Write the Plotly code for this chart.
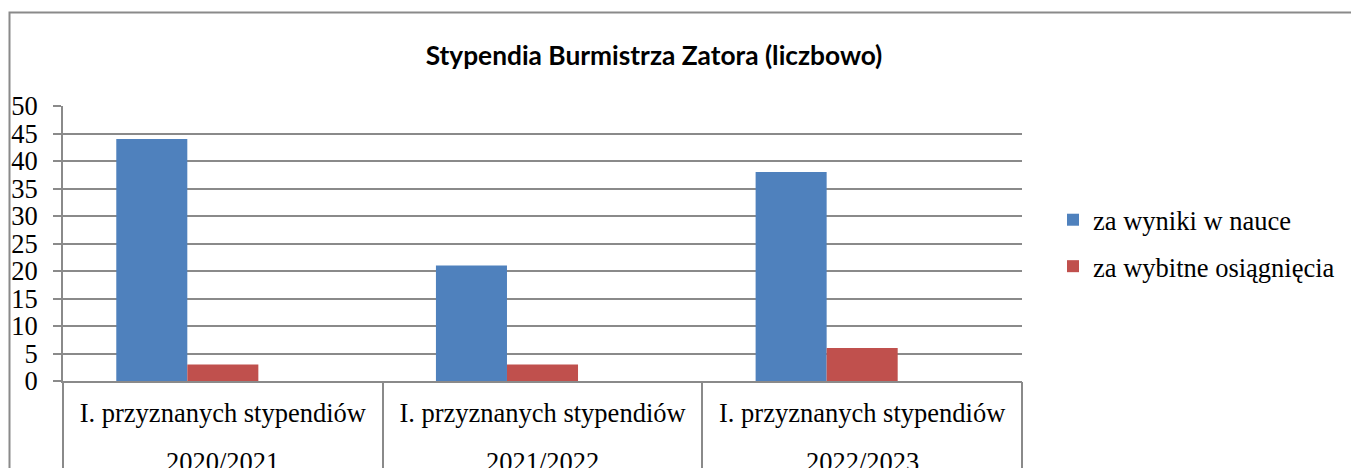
import plotly.graph_objects as go

# Scholarship counts per school year
years = ["2020/2021", "2021/2022", "2022/2023"]
row_label = "I. przyznanych stypendiów"
za_wyniki = [44, 21, 38]          # za wyniki w nauce
za_osiagniecia = [3, 3, 6]        # za wybitne osiągnięcia
series_names = ["za wyniki w nauce", "za wybitne osiągnięcia"]
y_ticks = [0, 5, 10, 15, 20, 25, 30, 35, 40, 45, 50]

BLUE = "#4F81BD"
RED = "#C0504D"
GRID = "#8a8a8a"
SERIF = "Liberation Serif, Times New Roman, serif"
FS = 26.5

W, H = 1351, 468
L, R, T, B = 63, W - 1022, 106, H - 381
PW, PH = W - L - R, H - T - B

fig = go.Figure()
fig.add_trace(go.Bar(x=years, y=za_wyniki, name=series_names[0],
                     marker=dict(color=BLUE, line=dict(width=0)), legendgroup="a"))
fig.add_trace(go.Bar(x=years, y=za_osiagniecia, name=series_names[1],
                     marker=dict(color=RED, line=dict(width=0)), legendgroup="b"))
# third (empty) series of the workbook keeps its slot in each group
fig.add_trace(go.Bar(x=years, y=[None] * len(years), name="", showlegend=False,
                     marker=dict(color="#9BBB59"), hoverinfo="skip"))
# carrier for the category separator axis
fig.add_trace(go.Scatter(x=years, y=[None] * len(years), xaxis="x2",
                         showlegend=False, hoverinfo="skip", mode="markers"))

# year line under each category label
for yr in years:
    fig.add_annotation(x=yr, xref="x", y=0, yref="y", yshift=-81,
                       text=yr, showarrow=False, yanchor="middle",
                       font=dict(family=SERIF, size=FS, color="black"))

# outer chart border
def px_x(p):
    return (p - L) / PW

def px_y(p):
    return (H - B - p) / PH

fig.add_shape(type="rect", xref="paper", yref="paper",
              x0=px_x(9.5), x1=px_x(1380), y0=px_y(490), y1=px_y(12.5),
              line=dict(color=GRID, width=2), layer="below")

fig.update_layout(
    width=W, height=H,
    margin=dict(l=L, r=R, t=T, b=B, pad=0, autoexpand=False),
    paper_bgcolor="white", plot_bgcolor="white",
    barmode="group", bargap=1.5 / 4.5, bargroupgap=0,
    title=dict(text="<b>Stypendia Burmistrza Zatora (liczbowo)</b>",
               xref="container", yref="container",
               x=654 / W, xanchor="center", y=1 - 56 / H, yanchor="middle",
               font=dict(family="Lato, Open Sans, sans-serif", size=26.3, color="black")),
    legend=dict(x=px_x(1053), xanchor="left", y=px_y(243), yanchor="middle",
                font=dict(family=SERIF, size=FS, color="black"),
                tracegroupgap=9, traceorder="grouped", bgcolor="rgba(0,0,0,0)"),
    showlegend=True,
    xaxis=dict(type="category", categoryorder="array", categoryarray=years,
               ticktext=[row_label] * len(years), tickvals=years,
               ticks="", showline=True, linecolor=GRID, linewidth=2,
               showgrid=False, automargin=False, ticklabelstandoff=7,
               tickfont=dict(family=SERIF, size=FS, color="black")),
    xaxis2=dict(type="category", categoryorder="array", categoryarray=years,
                overlaying="x", anchor="y", side="bottom", matches="x",
                tickson="boundaries", ticks="outside", ticklen=B, tickwidth=2,
                tickcolor=GRID, showticklabels=False, showgrid=False,
                showline=False, automargin=False),
    yaxis=dict(range=[0, 50], tickmode="array", tickvals=y_ticks,
               ticks="outside", ticklen=8, tickwidth=2, tickcolor=GRID,
               showline=True, linecolor=GRID, linewidth=2,
               showgrid=True, gridcolor=GRID, gridwidth=2, zeroline=False,
               ticklabelstandoff=10, automargin=False,
               tickfont=dict(family=SERIF, size=FS, color="black")),
)

fig.write_html("out.html")
